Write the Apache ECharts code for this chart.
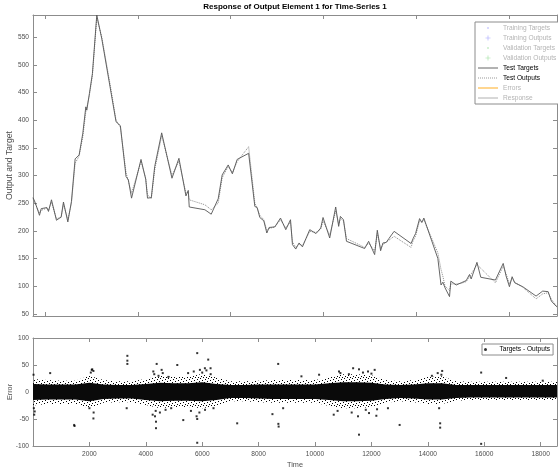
<!doctype html>
<html lang="en">
<head>
    <meta charset="UTF-8" />
    <title>Response of Output Element 1 for Time-Series 1</title>
    <script src="https://cdn.jsdelivr.net/npm/echarts@6/dist/echarts.min.js"></script>
    <style>
        html, body { margin: 0; padding: 0; background: #fff; }
        #chart { width: 558px; height: 475px; }
    </style>
</head>
<body>
    <div id="chart"></div>
    <script>
        // time steps of the piecewise test series
        var timeSteps = [1, 78, 230, 290, 492, 549, 655, 832, 998, 1080,
            1235, 1363, 1494, 1635, 1766, 1812, 1873, 1908, 2000, 2106,
            2262, 2439, 2733, 2945, 3098, 3299, 3381, 3494, 3830, 3997,
            4060, 4195, 4315, 4563, 4928, 5175, 5423, 5505, 5540, 6096,
            6319, 6567, 6708, 6921, 7069, 7239, 7646, 7866, 7947, 8043,
            8184, 8291, 8372, 8574, 8776, 8963, 9130, 9200, 9317, 9434,
            9554, 9813, 10036, 10202, 10284, 10521, 10733, 10839, 10900, 11009,
            11116, 11760, 11901, 12114, 12209, 12326, 12408, 12528, 12620, 12804,
            13406, 13477, 13565, 13707, 13788, 13859, 14355, 14468, 14532, 14610,
            14769, 14815, 15006, 15183, 15360, 15477, 15537, 15742, 15877, 16397,
            16673, 16776, 16893, 16989, 17081, 17364, 17838, 18072, 18266, 18380,
            18504, 18575];
        var testTargets = [260, 251, 228, 240, 242, 235, 256, 219, 225, 252,
            216, 253, 330, 337, 376, 373, 424, 418, 448, 484,
            590, 547, 460, 397, 390, 298, 292, 259, 329, 293,
            259, 260, 316, 377, 295, 331, 263, 273, 243, 238,
            230, 258, 301, 319, 303, 329, 340, 244, 242, 224,
            218, 196, 206, 207, 223, 202, 220, 175, 167, 178,
            171, 202, 195, 205, 224, 187, 243, 208, 226, 220,
            181, 168, 181, 157, 201, 164, 178, 179, 186, 199,
            177, 186, 195, 222, 215, 223, 150, 102, 107, 97,
            81, 109, 102, 106, 110, 121, 113, 143, 116, 111,
            141, 118, 99, 117, 106, 99, 82, 91, 90, 73,
            66, 63];
        var testOutputs = [258, 249, 232, 237, 241, 237, 252, 222, 224, 248,
            220, 250, 322, 335, 370, 372, 415, 418, 445, 480,
            585, 550, 465, 400, 387, 305, 290, 268, 325, 295,
            265, 258, 310, 372, 300, 326, 268, 270, 256, 247,
            238, 250, 296, 316, 305, 325, 352, 250, 242, 228,
            220, 201, 204, 207, 220, 205, 216, 180, 170, 176,
            173, 199, 197, 203, 218, 192, 236, 212, 222, 218,
            186, 170, 178, 163, 195, 168, 175, 180, 183, 190,
            170, 182, 190, 218, 216, 220, 160, 130, 118, 100,
            92, 104, 104, 105, 108, 117, 114, 139, null, 106,
            136, 122, 104, 114, 107, 98, 77, 86, 88, 76,
            68, 62];

        // error cloud: extent of the dense band and of its sparse fringe
        var bandTime = [0, 500, 1000, 1500, 2000, 2500, 3000, 3500, 4000, 4500,
            5000, 5500, 6000, 6500, 7000, 7500, 8000, 8500, 9000, 9500,
            10000, 10500, 11000, 11500, 12000, 12500, 13000, 13500, 14000, 14500,
            15000, 15500, 16000, 16500, 17000, 17500, 18000, 18580];
        var fringeHigh = [24, 22, 21, 21, 30, 22, 20, 20, 24, 30, 28, 28, 34, 27, 20, 20, 21, 22, 22, 22,
            22, 27, 33, 33, 31, 22, 20, 22, 28, 29, 20, 19, 19, 19, 19, 19, 19, 19];
        var fringeLow = [-25, -22, -22, -22, -30, -20, -19, -19, -24, -30, -28, -28, -30, -26, -17, -17, -19, -20, -20, -20,
            -20, -26, -30, -30, -28, -20, -17, -19, -22, -22, -16, -15, -15, -15, -15, -15, -15, -15];
        var coreHigh = [15, 14, 14, 14, 17, 14, 13, 13, 15, 17, 16, 16, 18, 15, 13, 13, 14, 14, 14, 14,
            14, 16, 18, 18, 17, 14, 13, 14, 16, 16, 13, 13, 13, 13, 13, 13, 13, 13];
        var coreLow = [-15, -14, -14, -14, -17, -13, -12, -12, -15, -17, -16, -16, -17, -15, -11, -11, -12, -13, -13, -13,
            -13, -15, -17, -17, -16, -13, -11, -12, -14, -14, -11, -10, -10, -10, -10, -10, -10, -10];

        // isolated error points outside the band
        var outlierTime = [19, 43, 609, 1460, 1472, 2083, 2142, 2142, 3322, 3346,
            3346, 3346, 4243, 4266, 4326, 4361, 4361, 4385, 4561, 5116,
            5328, 5800, 5823, 5823, 5823, 5918, 6095, 6213, 6296, 7240,
            8490, 8694, 8700, 8710, 8869, 9518, 10144, 10663, 10851, 11351,
            11524, 11559, 11559, 11879, 11915, 12115, 12174, 12586, 13000, 14144,
            14437, 14437, 14509, 15891, 15891, 16776, 18074,
            30, 60, 2000, 2050, 2100, 2150, 4300, 4450, 4600, 4800,
            4350, 4500, 4700, 4900, 5500, 5700, 6000, 6150, 6300, 5600,
            5900, 6100, 6400, 10800, 10900, 11200, 11300, 11700, 11800, 12000,
            12200, 14350, 14400, 14480];
        var outlierError = [32, -42, 35, -61, -63, 41, 39, -49, -30, 67,
            58, 52, -42, 38, -45, -55, -67, 52, 41, 50,
            -52, -45, 72, -50, -94, 41, 44, 60, 44, -58,
            -41, 52, -59, -64, -30, 29, 32, -42, 38, 44,
            -45, 42, -79, 38, -39, 41, -44, -30, -61, 30,
            -58, -66, 39, 36, -96, 26, 21,
            -30, -36, -30, 36, 42, -38, 33, 30, 35, 28,
            -35, -38, -33, -30, 35, 38, 36, 40, 33, -35,
            -38, -33, -30, -35, 35, 33, -38, 36, -33, 34,
            -32, 35, -30, 32];

        var responseTicks = [432, 3720, 7008, 10296, 13584, 16872];
        var timeTicks = [2000, 4000, 6000, 8000, 10000, 12000, 14000, 16000, 18000];
        var outputTicks = [50, 100, 150, 200, 250, 300, 350, 400, 450, 500, 550];

        function pairs(xs, ys) {
            return xs.map(function (x, i) { return [x, ys[i]]; });
        }

        var font = "'Liberation Sans', Arial, sans-serif";
        var axisGray = '#8c8c8c';
        var labelGray = '#4d4d4d';
        var plusIcon = 'path://M4.4,0h1.2v4.4h4.4v1.2h-4.4v4.4h-1.2v-4.4h-4.4v-1.2h4.4z';
        // tiny dot inside a larger empty box so the legend keeps it small
        var dotIcon = 'path://M0,0M10,10M3.6,3.6h2.8v2.8h-2.8z';
        var plainNum = function (v) { return String(v); };

        // speckle texture for the sparse edge of the error cloud
        function speckle() {
            var c = document.createElement('canvas');
            c.width = 8; c.height = 7;
            var g = c.getContext('2d');
            g.fillStyle = '#000';
            [[0, 0], [5, 1], [2, 2], [7, 3], [4, 4], [1, 5], [6, 6], [3, 6]].forEach(function (p) {
                g.fillRect(p[0], p[1], 1, 1);
            });
            return c;
        }

        function boxAxis(grid, pos, extra) {
            var a = {
                gridIndex: grid,
                type: 'value',
                position: pos,
                axisLine: { show: true, onZero: false, lineStyle: { color: axisGray, width: 1 } },
                axisTick: { show: true, inside: true, length: 4, lineStyle: { color: axisGray } },
                axisLabel: { show: false },
                splitLine: { show: false }
            };
            return Object.assign(a, extra);
        }
        function ticks(values) {
            return { show: true, inside: true, length: 4, lineStyle: { color: axisGray }, customValues: values };
        }

        var chart = echarts.init(document.getElementById('chart'));
        var option = {
            animation: false,
            textStyle: { fontFamily: font },
            title: {
                text: 'Response of Output Element 1 for Time-Series 1',
                left: 295,
                textAlign: 'center',
                top: 3,
                padding: 0,
                textStyle: { fontSize: 8, fontWeight: 'bold', color: '#000', fontFamily: font }
            },
            grid: [
                { left: 33, top: 15, width: 524, height: 301, containLabel: false, outerBoundsMode: 'none' },
                { left: 33, top: 338, width: 524, height: 108, containLabel: false, outerBoundsMode: 'none' }
            ],
            legend: [{
                orient: 'vertical',
                left: 475,
                top: 22,
                itemWidth: 20,
                itemHeight: 5,
                itemGap: 0,
                padding: [1, 4, 1, 2],
                borderColor: axisGray,
                borderWidth: 1,
                backgroundColor: '#fff',
                selectedMode: false,
                textStyle: { fontSize: 6.6, lineHeight: 10, color: '#000', fontFamily: font },
                data: [
                    { name: 'Training Targets', icon: dotIcon, textStyle: { color: '#b4b4b4' } },
                    { name: 'Training Outputs', textStyle: { color: '#b4b4b4' } },
                    { name: 'Validation Targets', icon: dotIcon, textStyle: { color: '#b4b4b4' } },
                    { name: 'Validation Outputs', textStyle: { color: '#b4b4b4' } },
                    { name: 'Test Targets', itemStyle: { opacity: 0 }, lineStyle: { width: 1, color: '#666' } },
                    { name: 'Test Outputs', itemStyle: { opacity: 0 }, lineStyle: { width: 1, color: '#999' } },
                    { name: 'Errors', itemStyle: { opacity: 0 }, textStyle: { color: '#b4b4b4' } },
                    { name: 'Response', itemStyle: { opacity: 0 }, lineStyle: { width: 1, color: '#b0b0b0' },
                      textStyle: { color: '#b4b4b4' } }
                ]
            }, {
                left: 482,
                top: 344,
                itemWidth: 18,
                itemHeight: 3,
                padding: [1, 3, 1, 2],
                borderColor: axisGray,
                borderWidth: 1,
                backgroundColor: '#fff',
                selectedMode: false,
                textStyle: { fontSize: 6.6, lineHeight: 9, color: '#000', fontFamily: font },
                data: [{ name: 'Targets - Outputs', icon: 'circle' }]
            }],
            xAxis: [
                boxAxis(0, 'bottom', { min: 0, max: 18580, axisTick: ticks(responseTicks) }),
                boxAxis(0, 'top', { min: 0, max: 18580, axisTick: ticks(responseTicks) }),
                boxAxis(1, 'bottom', { min: 0, max: 18580,
                    name: 'Time', nameLocation: 'middle', nameGap: 15,
                    nameTextStyle: { fontSize: 7.3, color: labelGray, fontFamily: font },
                    axisTick: ticks(timeTicks),
                    axisLabel: { show: true, margin: 5, fontSize: 6.6, color: labelGray,
                        customValues: timeTicks, formatter: plainNum } }),
                boxAxis(1, 'top', { min: 0, max: 18580, axisTick: ticks(timeTicks) })
            ],
            yAxis: [
                boxAxis(0, 'left', { min: 46, max: 590,
                    name: 'Output and Target', nameLocation: 'middle', nameGap: 19, nameMoveOverlap: false,
                    nameTextStyle: { fontSize: 8.6, color: labelGray, fontFamily: font },
                    axisTick: ticks(outputTicks),
                    axisLabel: { show: true, margin: 4, fontSize: 6.6, color: labelGray,
                        customValues: outputTicks, formatter: plainNum } }),
                boxAxis(0, 'right', { min: 46, max: 590, axisTick: ticks(outputTicks) }),
                boxAxis(1, 'left', { min: -100, max: 100, interval: 50,
                    name: 'Error', nameLocation: 'middle', nameGap: 20, nameMoveOverlap: false,
                    nameTextStyle: { fontSize: 7.3, color: labelGray, fontFamily: font },
                    axisLabel: { show: true, margin: 4, fontSize: 6.6, color: labelGray, formatter: plainNum } }),
                boxAxis(1, 'right', { min: -100, max: 100, interval: 50 })
            ],
            series: [
                { name: 'Training Targets', type: 'scatter', xAxisIndex: 0, yAxisIndex: 0, data: [],
                  symbol: 'circle', symbolSize: 2, itemStyle: { color: '#a6a6ff' } },
                { name: 'Training Outputs', type: 'scatter', xAxisIndex: 0, yAxisIndex: 0, data: [],
                  symbol: plusIcon, symbolSize: 5, itemStyle: { color: '#8f8fff' } },
                { name: 'Validation Targets', type: 'scatter', xAxisIndex: 0, yAxisIndex: 0, data: [],
                  symbol: 'circle', symbolSize: 2, itemStyle: { color: '#9ede9e' } },
                { name: 'Validation Outputs', type: 'scatter', xAxisIndex: 0, yAxisIndex: 0, data: [],
                  symbol: plusIcon, symbolSize: 5, itemStyle: { color: '#86d886' } },
                { name: 'Test Outputs', type: 'line', xAxisIndex: 0, yAxisIndex: 0,
                  data: pairs(timeSteps, testOutputs), connectNulls: true,
                  symbol: 'none', color: '#8a8a8a', lineStyle: { width: 1, type: 'dotted', color: '#8a8a8a' } },
                { name: 'Test Targets', type: 'line', xAxisIndex: 0, yAxisIndex: 0,
                  data: pairs(timeSteps, testTargets),
                  symbol: 'none', color: '#555', lineStyle: { width: 0.9, color: '#555' } },
                { name: 'Errors', type: 'line', xAxisIndex: 0, yAxisIndex: 0, data: [],
                  symbol: 'none', color: '#ffd690', lineStyle: { width: 2, color: '#ffd690' } },
                { name: 'Response', type: 'line', xAxisIndex: 0, yAxisIndex: 0, data: [],
                  symbol: 'none', color: '#a8a8a8', lineStyle: { width: 1, color: '#a8a8a8' } },

                { name: 'fringe high', type: 'line', xAxisIndex: 2, yAxisIndex: 2, data: pairs(bandTime, fringeHigh),
                  symbol: 'none', lineStyle: { width: 0 }, silent: true,
                  areaStyle: { color: { image: speckle(), repeat: 'repeat' }, opacity: 1 } },
                { name: 'fringe low', type: 'line', xAxisIndex: 2, yAxisIndex: 2, data: pairs(bandTime, fringeLow),
                  symbol: 'none', lineStyle: { width: 0 }, silent: true,
                  areaStyle: { color: { image: speckle(), repeat: 'repeat' }, opacity: 1 } },
                { name: 'core high', type: 'line', xAxisIndex: 2, yAxisIndex: 2, data: pairs(bandTime, coreHigh),
                  symbol: 'none', lineStyle: { width: 0 }, areaStyle: { color: '#0a0a0a', opacity: 1 }, silent: true },
                { name: 'core low', type: 'line', xAxisIndex: 2, yAxisIndex: 2, data: pairs(bandTime, coreLow),
                  symbol: 'none', lineStyle: { width: 0 }, areaStyle: { color: '#0a0a0a', opacity: 1 }, silent: true },
                { name: 'Targets - Outputs', type: 'scatter', xAxisIndex: 2, yAxisIndex: 2,
                  data: pairs(outlierTime, outlierError), z: 5,
                  symbol: 'rect', symbolSize: 2, itemStyle: { color: '#000' } }
            ]
        };
        chart.setOption(option);
    </script>
</body>
</html>
